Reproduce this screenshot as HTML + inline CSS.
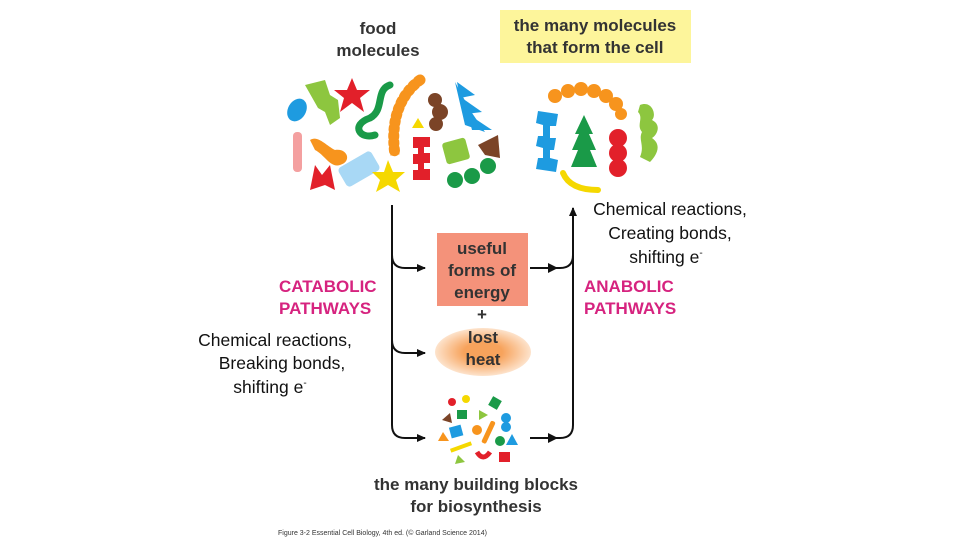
<!DOCTYPE html>
<html><head><meta charset="utf-8"><style>
html,body{margin:0;padding:0;background:#fff;}
svg{display:block;}
.b{font-family:"Liberation Sans",sans-serif;font-weight:bold;fill:#333;font-size:17px;}
.m{font-family:"Liberation Sans",sans-serif;font-weight:bold;fill:#d6237f;font-size:17px;}
.c{font-family:"Liberation Sans",sans-serif;fill:#111;font-size:17.5px;}
</style></head><body>
<svg width="960" height="540" viewBox="0 0 960 540" xmlns="http://www.w3.org/2000/svg">
<defs>
<radialGradient id="hg"><stop offset="0.4" stop-color="#f7a35c"/><stop offset="1" stop-color="#fde3cc"/></radialGradient>
<marker id="ah" markerWidth="10" markerHeight="10" refX="8" refY="5" orient="auto" markerUnits="userSpaceOnUse"><path d="M0,1 L9,5 L0,9 Z" fill="#111"/></marker>
</defs>
<text class="b" x="378" y="34" text-anchor="middle">food</text>
<text class="b" x="378" y="56" text-anchor="middle">molecules</text>
<rect x="500" y="10" width="191" height="53" fill="#fdf59b"/>
<text class="b" x="595" y="31" text-anchor="middle">the many molecules</text>
<text class="b" x="595" y="53" text-anchor="middle">that form the cell</text>

<ellipse cx="297" cy="110" rx="9" ry="12" fill="#1e9be0" transform="rotate(30 297 110)"/>
<path d="M305,85 L325,80 L330,95 L338,100 L340,118 L330,125 L325,112 L318,108 Z" fill="#8dc63f"/>
<polygon points="352,78 357,90 370,90 360,98 364,112 352,103 340,112 344,98 334,90 347,90" fill="#e2202a"/>
<path d="M390,85 C375,90 385,110 370,118 C350,125 360,140 375,135" stroke="#1a9a48" stroke-width="7" fill="none" stroke-linecap="round"/>
<path d="M420,80 C400,95 390,120 395,155" stroke="#f7941d" stroke-width="11" fill="none" stroke-linecap="round" stroke-dasharray="2 5"/>
<path d="M420,80 C400,95 390,120 395,155" stroke="#f7941d" stroke-width="9" fill="none"/>
<polygon points="418,118 412,128 424,128" fill="#f5d800"/>
<circle cx="435" cy="100" r="7" fill="#7b4427"/><circle cx="440" cy="112" r="8" fill="#7b4427"/><circle cx="436" cy="124" r="7" fill="#7b4427"/>
<path d="M455,82 L470,110 L485,132 L465,125 Z" fill="#1e9be0"/>
<polygon points="457,82 475,95 460,98" fill="#1e9be0"/><polygon points="462,98 482,112 466,114" fill="#1e9be0"/><polygon points="468,114 492,130 472,130" fill="#1e9be0"/>
<rect x="293" y="132" width="9" height="40" rx="4" fill="#f4a0a0"/>
<path d="M310,140 C318,135 325,145 335,150 C348,148 352,162 340,165 C330,168 325,155 315,150 Z" fill="#f7941d"/>
<path d="M310,190 L315,165 L322,175 L330,165 L335,190 L325,185 Z" fill="#e2202a"/>
<rect x="340" y="158" width="38" height="22" rx="4" fill="#a8d8f5" transform="rotate(-30 359 169)"/>
<polygon points="388,160 393,172 405,172 396,180 400,192 388,185 376,192 380,180 372,172 384,172" fill="#f5d800"/>
<path d="M413,137 L430,137 L430,147 L424,147 L424,153 L430,153 L430,163 L424,163 L424,169 L430,169 L430,180 L413,180 L413,170 L418,170 L418,164 L413,164 L413,154 L418,154 L418,148 L413,148 Z" fill="#e2202a"/>
<rect x="444" y="140" width="24" height="22" rx="3" fill="#8dc63f" transform="rotate(-15 456 151)"/>
<path d="M478,145 L498,135 L500,158 L485,155 Z" fill="#7b4427"/>
<circle cx="455" cy="180" r="8" fill="#1a9a48"/><circle cx="472" cy="176" r="8" fill="#1a9a48"/><circle cx="488" cy="166" r="8" fill="#1a9a48"/>

<g fill="#f7941d"><circle cx="555" cy="96" r="7"/><circle cx="568" cy="91" r="7"/><circle cx="581" cy="89" r="7"/><circle cx="594" cy="91" r="7"/><circle cx="606" cy="96" r="7"/><circle cx="616" cy="104" r="7"/><circle cx="621" cy="114" r="6"/></g>
<path d="M538,111 L558,114 L556,126 L550,126 L550,138 L556,138 L554,150 L550,150 L550,158 L558,160 L556,172 L536,169 L538,158 L543,158 L543,148 L536,146 L538,136 L543,136 L543,125 L536,123 Z" fill="#1e9be0"/>
<polygon points="584,115 575,134 579,134 572,150 578,150 571,167 597,167 590,150 596,150 589,134 593,134" fill="#1a9a48"/>
<circle cx="618" cy="138" r="9" fill="#e2202a"/><circle cx="618" cy="153" r="9" fill="#e2202a"/><circle cx="618" cy="168" r="9" fill="#e2202a"/>
<path d="M640,105 C652,100 657,115 652,120 C662,125 657,135 652,138 C662,145 657,155 650,162 L640,157 C645,145 638,140 642,132 C636,125 644,118 638,112 Z" fill="#8dc63f"/>
<path d="M563,173 C568,185 580,190 598,190" stroke="#f5d800" stroke-width="6" fill="none" stroke-linecap="round"/>

<path d="M392,205 L392,255 Q392,268 405,268 L425,268" stroke="#111" stroke-width="2" fill="none" marker-end="url(#ah)"/>
<path d="M392,255 L392,340 Q392,353 405,353 L425,353" stroke="#111" stroke-width="2" fill="none" marker-end="url(#ah)"/>
<path d="M392,340 L392,425 Q392,438 405,438 L425,438" stroke="#111" stroke-width="2" fill="none" marker-end="url(#ah)"/>
<path d="M530,438 L560,438 Q573,438 573,425 L573,208" stroke="#111" stroke-width="2" fill="none" marker-end="url(#ah)"/>
<path d="M530,268 L560,268 Q573,268 573,255" stroke="#111" stroke-width="2" fill="none"/>
<polygon points="548,263 558,268 548,273" fill="#111"/>
<polygon points="548,433 558,438 548,443" fill="#111"/>

<rect x="437" y="233" width="91" height="73" fill="#f4927a"/>
<text class="b" x="482" y="254" text-anchor="middle">useful</text>
<text class="b" x="482" y="276" text-anchor="middle">forms of</text>
<text class="b" x="482" y="298" text-anchor="middle">energy</text>
<text class="b" x="482" y="320" text-anchor="middle">+</text>
<ellipse cx="483" cy="352" rx="48" ry="24" fill="url(#hg)"/>
<text class="b" x="483" y="343" text-anchor="middle">lost</text>
<text class="b" x="483" y="365" text-anchor="middle">heat</text>

<circle cx="452" cy="402" r="4" fill="#e2202a"/><circle cx="466" cy="399" r="4" fill="#f5d800"/>
<rect x="490" y="398" width="10" height="10" fill="#1a9a48" transform="rotate(30 495 403)"/>
<polygon points="442,420 450,413 452,423" fill="#7b4427"/>
<rect x="457" y="410" width="10" height="9" fill="#1a9a48"/>
<polygon points="479,410 488,415 479,420" fill="#8dc63f"/>
<circle cx="506" cy="418" r="5" fill="#1e9be0"/><circle cx="506" cy="427" r="5" fill="#1e9be0"/>
<rect x="450" y="426" width="12" height="11" fill="#1e9be0" transform="rotate(-15 456 431)"/>
<circle cx="477" cy="430" r="5" fill="#f7941d"/>
<rect x="486" y="420" width="5" height="24" rx="2" fill="#f7941d" transform="rotate(25 488 432)"/>
<polygon points="443,432 449,441 438,441" fill="#f7941d"/>
<circle cx="500" cy="441" r="5" fill="#1a9a48"/>
<polygon points="512,434 518,445 506,445" fill="#1e9be0"/>
<rect x="450" y="445" width="22" height="4" fill="#f5d800" transform="rotate(-20 461 447)"/>
<path d="M477,452 Q483,462 490,452" stroke="#e2202a" stroke-width="5" fill="none"/>
<rect x="499" y="452" width="11" height="10" fill="#e2202a"/>
<polygon points="458,455 465,462 455,464" fill="#8dc63f"/>

<text class="m" x="279" y="292">CATABOLIC</text>
<text class="m" x="279" y="314">PATHWAYS</text>
<text class="m" x="584" y="292">ANABOLIC</text>
<text class="m" x="584" y="314">PATHWAYS</text>
<text class="c" x="670" y="215" text-anchor="middle">Chemical reactions,</text>
<text class="c" x="670" y="239" text-anchor="middle">Creating bonds,</text>
<text class="c" x="666" y="263" text-anchor="middle">shifting e<tspan font-size="10" dy="-7">-</tspan></text>
<text class="c" x="275" y="346" text-anchor="middle">Chemical reactions,</text>
<text class="c" x="282" y="369" text-anchor="middle">Breaking bonds,</text>
<text class="c" x="270" y="393" text-anchor="middle">shifting e<tspan font-size="10" dy="-7">-</tspan></text>
<text class="b" x="476" y="490" text-anchor="middle">the many building blocks</text>
<text class="b" x="476" y="512" text-anchor="middle">for biosynthesis</text>
<text x="278" y="535" font-family="Liberation Sans,sans-serif" font-size="7" fill="#333">Figure 3-2  Essential Cell Biology, 4th ed. (© Garland Science 2014)</text>
</svg>
</body></html>
